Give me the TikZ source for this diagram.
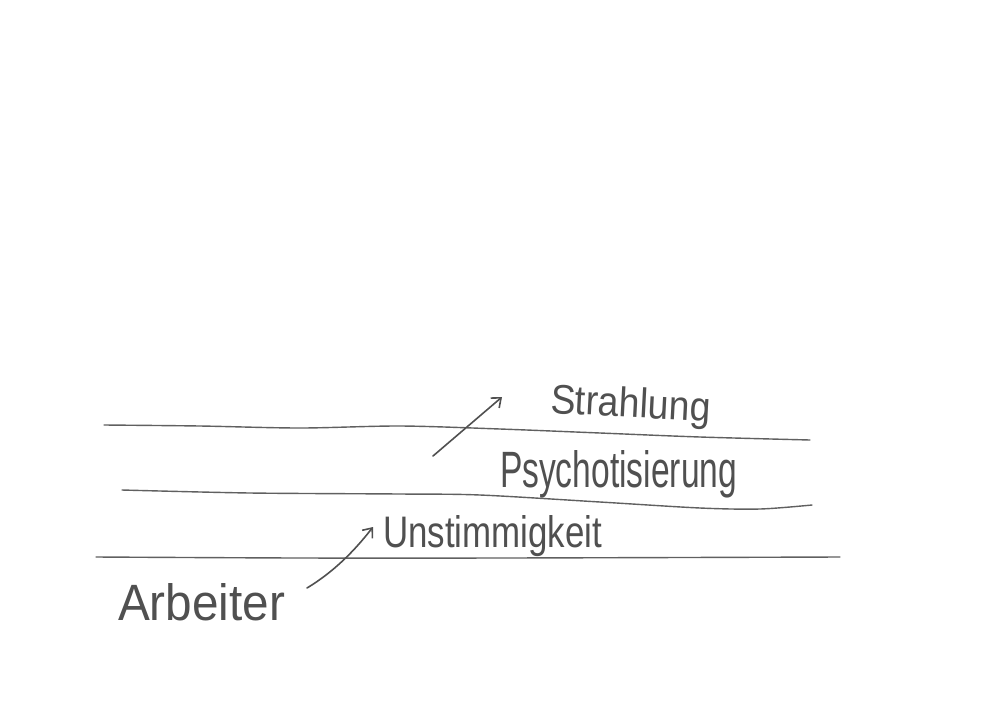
\documentclass[tikz,border=0pt]{standalone}
\usepackage{fontspec}
\setmainfont{Liberation Sans}
\usetikzlibrary{arrows.meta}
\definecolor{ink}{HTML}{505050}
\definecolor{rule}{HTML}{606060}
\tikzset{
  hw/.style={inner sep=0pt, outer sep=0pt, text=ink, anchor=base west},
  ruleline/.style={draw=rule, line width=1.4pt, line cap=round},
  pen/.style={draw=ink, line width=1.6pt, line cap=round, -{Straight Barb[length=8pt,width=13pt,line width=1.6pt]}}
}
\begin{document}
\begin{tikzpicture}[x=1pt,y=-1pt]
\useasboundingbox[fill=white] (0,0) rectangle (1000,707);
% ruled lines
\draw[ruleline] plot[smooth] coordinates {(104,425) (200,426) (300,428) (400,426) (500,429) (600,433) (700,437) (810,440)};
\draw[ruleline] plot[smooth] coordinates {(122,490) (250,493) (400,494) (480,495) (600,502) (700,508) (760,509) (812,505)};
\draw[ruleline] plot[smooth] coordinates {(96,557) (300,558) (500,558) (840,557)};
% labels
\node[hw, rotate=-3] (strahlung) at (550,413) {\resizebox{160pt}{30pt}{Strahlung}};
\node[hw] (psycho) at (500,487) {\resizebox{237pt}{37pt}{Psychotisierung}};
\node[hw] (unstimm) at (383,547) {\resizebox{219pt}{32pt}{Unstimmigkeit}};
\node[hw] (arbeiter) at (118,620) {\resizebox{167pt}{37pt}{Arbeiter}};
% arrow ends
\coordinate (a1s) at (433,456);
\coordinate (a1e) at (502,397);
\coordinate (a2s) at (307,588);
\coordinate (a2e) at (373,527);
\draw[pen] (a1s) -- (a1e);
\draw[pen] (a2s) .. controls (335,571) and (355,550) .. (a2e);
\end{tikzpicture}
\end{document}
